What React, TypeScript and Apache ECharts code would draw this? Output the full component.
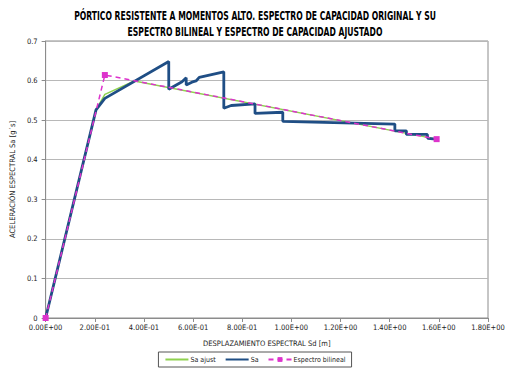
import React, { useEffect, useRef } from "react";
import * as echarts from "echarts";

const titleLines = [
  "PÓRTICO RESISTENTE A MOMENTOS ALTO. ESPECTRO DE CAPACIDAD ORIGINAL Y SU",
  "ESPECTRO BILINEAL Y ESPECTRO DE CAPACIDAD AJUSTADO",
];
const xAxisName = "DESPLAZAMIENTO ESPECTRAL Sd [m]";
const yAxisName = "ACELERACIÓN ESPECTRAL Sa [g´s]";

const saAjust: [number, number][] = [
  [0, 0],
  [0.205, 0.526],
  [0.241, 0.565],
  [0.361, 0.599],
  [1.591, 0.452],
];

const sa: [number, number][] = [
  [0, 0],
  [0.205, 0.526],
  [0.241, 0.555],
  [0.501, 0.648],
  [0.501, 0.578],
  [0.555, 0.597],
  [0.572, 0.607],
  [0.572, 0.589],
  [0.595, 0.596],
  [0.612, 0.599],
  [0.625, 0.608],
  [0.725, 0.622],
  [0.725, 0.53],
  [0.755, 0.537],
  [0.852, 0.541],
  [0.852, 0.517],
  [0.965, 0.52],
  [0.965, 0.497],
  [1.421, 0.49],
  [1.421, 0.473],
  [1.468, 0.473],
  [1.468, 0.464],
  [1.553, 0.464],
  [1.555, 0.454],
  [1.588, 0.452],
];

const bilineal: [number, number][] = [
  [0, 0],
  [0.241, 0.614],
  [1.591, 0.452],
];

const FONT = "'DejaVu Sans Condensed', 'Liberation Sans', sans-serif";

function fmtExp(v: number): string {
  const s = v.toExponential(2).toUpperCase();
  const [m, e] = s.split("E");
  const n = parseInt(e, 10);
  const sign = n < 0 ? "-" : "+";
  const abs = Math.abs(n).toString().padStart(2, "0");
  return `${m}E${sign}${abs}`;
}

export default function App() {
  const ref = useRef<HTMLDivElement>(null);
  useEffect(() => {
    document.body.style.margin = "0";
    if (!ref.current) return;
    const chart = echarts.init(ref.current, undefined, { renderer: "svg" });
    chart.setOption({
      animation: false,
      backgroundColor: "#ffffff",
      graphic: titleLines.map((t, i) => ({
        type: "text",
        x: 255,
        y: 15 + i * 16,
        scaleX: 0.71,
        style: {
          text: t,
          textAlign: "center",
          textVerticalAlign: "middle",
          fontFamily: FONT,
          fontSize: 12,
          fontWeight: "bold",
          fill: "#000",
        },
      })),
      grid: {
        left: 38,
        right: 22,
        top: 41,
        bottom: 53,
        show: true,
        borderColor: "#8c8c8c",
        borderWidth: 1,
      },
      legend: {
        top: 352,
        left: "center",
        itemWidth: 23,
        itemHeight: 6,
        itemGap: 9,
        padding: [4, 6],
        borderColor: "#555",
        borderWidth: 1,
        borderRadius: 0,
        textStyle: { fontFamily: FONT, fontSize: 7, color: "#222", padding: [0, 0, 0, -3] },
        data: [
          { name: "Sa ajust", itemStyle: { opacity: 0 } },
          { name: "Sa", itemStyle: { opacity: 0 } },
          { name: "Espectro bilineal" },
        ],
      },
      xAxis: {
        type: "value",
        min: 0,
        max: 1.8,
        interval: 0.2,
        name: xAxisName,
        nameLocation: "middle",
        nameGap: 21,
        nameTextStyle: { fontFamily: FONT, fontSize: 7.5, color: "#222" },
        axisLine: { show: true, lineStyle: { color: "#8c8c8c" } },
        axisTick: { show: true, length: 4, lineStyle: { color: "#8c8c8c" } },
        axisLabel: {
          fontFamily: FONT,
          fontSize: 7.5,
          color: "#222",
          margin: 5,
          formatter: (v: number) => fmtExp(v),
        },
        splitLine: { show: false },
      },
      yAxis: {
        type: "value",
        min: 0,
        max: 0.7,
        interval: 0.1,
        name: yAxisName,
        nameLocation: "middle",
        nameGap: 22,
        nameTextStyle: { fontFamily: FONT, fontSize: 7.5, color: "#222" },
        axisLine: { show: true, lineStyle: { color: "#8c8c8c" } },
        axisTick: { show: true, length: 4, lineStyle: { color: "#8c8c8c" } },
        axisLabel: {
          fontFamily: FONT,
          fontSize: 7.5,
          color: "#222",
          margin: 8,
          formatter: (v: number) => (v === 0 ? "0" : v.toFixed(1)),
        },
        splitLine: { show: true, lineStyle: { color: "#b8b8b8", width: 1 } },
      },
      series: [
        {
          name: "Sa ajust",
          type: "line",
          data: saAjust,
          symbol: "none",
          lineStyle: { color: "#8fd14f", width: 1.5 },
          itemStyle: { color: "#8fd14f" },
        },
        {
          name: "Sa",
          type: "line",
          data: sa,
          symbol: "none",
          lineStyle: { color: "#1f4e85", width: 2.8 },
          itemStyle: { color: "#1f4e85" },
        },
        {
          name: "Espectro bilineal",
          type: "line",
          data: bilineal,
          symbol: "rect",
          symbolSize: 6,
          lineStyle: { color: "#dd33cc", width: 1.5, type: [5, 4] },
          itemStyle: { color: "#dd33cc" },
        },
      ],
    });
    return () => chart.dispose();
  }, []);
  return <div ref={ref} style={{ width: 510, height: 371 }} />;
}
